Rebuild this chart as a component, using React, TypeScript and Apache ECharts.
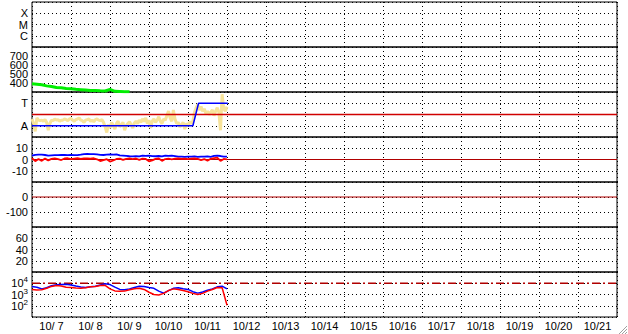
import React, { useEffect, useRef } from "react";
import * as echarts from "echarts";

// Day tick labels (band-centred under each day)
const dayLabels = ["10/ 7", "10/ 8", "10/ 9", "10/10", "10/11", "10/12", "10/13", "10/14", "10/15", "10/16", "10/17", "10/18", "10/19", "10/20", "10/21"];

// Panel 1 category tick labels
const flareTicks = ["C", "M", "X"];
// Panel 3 category tick labels (value 1 = A, value 3 = T)
const levelTicks = ["A", "", "T"];

// Panel 2: green series, 3-hour samples from 10/7 00:00
const greenValues = [392, 386, 380, 368, 362, 350, 346, 340, 336, 330, 326, 322, 318, 316, 313, 311, 330, 308, 306, 304, 302];

// Panel 3: yellow series, hourly samples
const yellowValues = [
  1.6, 1.2, 0.5, 1.7, 1.5,
  1.45, 1.5, 1.4, 1.55, 1.3, 0.6, 1.2, 1.5, 1.45, 1.6, 1.5, 1.55, 1.4, 1.5,
  1.5, 1.6, 1.55, 1.45, 1.6, 1.65, 1.5, 1.4, 1.55, 1.6, 1.7, 1.5, 1.45, 1.3, 1.5, 1.55, 1.6, 1.4, 1.5, 1.35, 1.55, 1.6, 1.5, 1.45, 1.55, 1.3, 0.9,
  0.4, 1.1, 0.8, 1.3, 1.0, 0.7, 1.2, 1.4, 0.9, 1.1, 1.3, 0.6, 1.0, 1.2, 1.35, 1.1, 0.8, 1.25, 1.4, 1.2,
  1.5, 1.3, 1.6, 1.4, 1.7, 1.2, 1.5, 0.8, 1.4, 1.6, 1.3, 1.5, 1.8, 1.4, 1.2, 1.6, 1.5, 1.9, 2.3, 1.7, 1.4, 2.4, 1.6,
  1.2, 1.3, 0.9, 1.1, 1.3, 0.7, 1.2, 1.0, 1.35, 1.2, 1.4,
  2.2, 2.6, 2.9, 2.4, 2.7, 2.3, 2.5, 2.1, 2.3, 2.0, 2.2, 2.4, 1.9, 2.3, 2.6, 2.2, 0.6, 3.8, 2.5, 2.3, 2.7,
];
// Panel 3: blue level line [hour, level]
const blueLevelHours = [0, 99, 102.5, 120.5];
const blueLevelValues = [1, 1, 3, 3];
const redLevel = 2;

// Panel 4: 2-hour samples
const panel4Blue = [3.4, 4.2, 4.4, 4.3, 4.0, 3.4, 3.6, 3.8, 3.9, 4.0, 4.1, 3.9, 4.0, 3.8, 3.9, 4.3, 4.8, 4.9, 4.7, 4.8, 4.5, 4.1, 4.0, 4.3, 4.5, 4.4, 4.5, 3.6, 3.4, 3.2, 2.9, 2.7, 3.0, 2.8, 3.4, 3.2, 3.5, 3.0, 2.9, 3.1, 2.8, 3.4, 3.2, 3.5, 3.0, 2.5, 2.6, 2.4, 2.6, 2.5, 2.7, 2.4, 2.6, 2.5, 2.7, 2.4, 3.2, 3.5, 3.1, 2.6, 2.5];
const panel4Red = [1.2, -1.5, 0.5, -1.2, 0.8, -0.8, 0.6, 1.0, 0.3, -0.5, 0.9, 1.1, 0.4, 0.8, 1.2, 0.6, 0.9, 1.0, 0.7, 1.1, 0.2, -1.4, -0.6, 0.3, -1.8, -0.9, 0.5, 0.8, -0.4, 0.6, 1.0, 0.4, 0.9, -0.3, 0.7, 0.5, -1.6, -0.8, 0.6, 0.9, -1.2, 0.4, 0.8, 0.2, 0.7, 1.0, 0.5, 0.8, 0.3, 0.7, 0.9, 0.6, -0.5, 0.4, -1.0, 0.6, 1.2, 1.6, -1.3, 0.5, 0.2];

// Panel 7: 3-hour samples (log axis)
const panel7Blue = [5250, 4470, 3160, 3980, 6030, 7240, 7940, 8320, 7080, 5620, 4570, 4170, 4790, 5500, 7080, 8910, 7590, 4470, 2820, 2630, 3160, 4170, 5500, 5250, 4170, 3550, 2000, 1320, 2240, 3550, 3980, 3310, 2820, 1780, 1320, 1660, 2400, 3160, 4790, 5500, 3160];
const panel7Red = [2820, 2510, 2630, 3550, 5250, 6310, 5620, 4470, 4170, 3800, 3550, 3980, 4790, 5250, 6310, 6610, 3160, 2090, 1910, 2000, 2630, 3310, 3550, 2820, 1580, 1000, 910, 1260, 2240, 3160, 2820, 2240, 1780, 1260, 1000, 1260, 2000, 2820, 4170, 3980, 110];
const panel7Threshold = 10000;

const FONT = "'Liberation Sans', Arial, sans-serif";
const TOP0 = 2;
const PANEL_H = 45;

export default function App() {
  const ref = useRef<HTMLDivElement>(null);
  useEffect(() => {
    if (!ref.current) return;
    const chart = echarts.init(ref.current, undefined, { renderer: "svg" });

    const grids = [];
    const xAxes: any[] = [];
    for (let i = 0; i < 7; i++) {
      grids.push({ left: 32, right: 11, top: TOP0 + PANEL_H * i, height: PANEL_H, show: true, borderColor: "#000", borderWidth: 1, backgroundColor: "transparent" });
      xAxes.push({
        type: "value", gridIndex: i, min: 0, max: 360, interval: 24,
        axisLabel: { show: false }, axisTick: { show: false }, axisLine: { show: false },
        splitLine: { show: true, lineStyle: { color: "#000", type: [1, 3], width: 1 } },
      });
    }
    xAxes.push({
      type: "category", gridIndex: 6, position: "bottom", data: dayLabels, boundaryGap: true,
      axisLine: { show: false }, axisTick: { show: false }, splitLine: { show: false },
      axisLabel: { interval: 0, color: "#000", fontSize: 11, fontFamily: FONT, margin: 3 },
    });

    const yBase = (i: number, extra: any) => ({
      gridIndex: i, type: "value",
      axisLine: { show: false }, axisTick: { show: false },
      splitLine: { show: true, lineStyle: { color: "#000", type: [1, 3], width: 1 } },
      ...extra,
      axisLabel: { color: "#000", fontSize: 11, fontFamily: FONT, margin: 4, lineHeight: 11, ...(extra.axisLabel || {}) },
    });

    const yAxes = [
      yBase(0, { min: 0, max: 4, interval: 1, axisLabel: { formatter: (v: number) => (v >= 1 && v <= 3 ? flareTicks[v - 1] : "") } }),
      yBase(1, { min: 300, max: 800, interval: 100, axisLabel: { lineHeight: 9, formatter: (v: number) => (v > 300 && v < 800 ? String(v) : "") } }),
      yBase(2, { min: 0, max: 4, interval: 1, axisLabel: { formatter: (v: number) => (v >= 1 && v <= 3 ? levelTicks[v - 1] : "") } }),
      yBase(3, { min: -20, max: 20, interval: 10, axisLabel: { formatter: (v: number) => (v > -20 && v < 20 ? String(v) : "") } }),
      yBase(4, { min: -200, max: 100, interval: 100, axisLabel: { formatter: (v: number) => (v > -200 && v < 100 ? String(v) : "") } }),
      yBase(5, { min: 0, max: 80, interval: 20, axisLabel: { formatter: (v: number) => (v > 0 && v < 80 ? String(v) : "") } }),
      {
        gridIndex: 6, type: "log", logBase: 10, min: 10, max: 100000,
        axisLine: { show: false }, axisTick: { show: false },
        splitLine: { show: true, lineStyle: { color: "#000", type: [1, 3], width: 1 } },
        axisLabel: {
          color: "#000", fontSize: 11, fontFamily: FONT, margin: 4,
          formatter: (v: number) => {
            const e = Math.round(Math.log10(v));
            if (e <= 1 || e >= 5) return "";
            return "{a|10}{b|" + e + "}";
          },
          rich: {
            a: { fontSize: 11, fontFamily: FONT, color: "#000", lineHeight: 11, verticalAlign: "middle" },
            b: { fontSize: 8, fontFamily: FONT, color: "#000", lineHeight: 8, padding: [0, 0, 7, 0], verticalAlign: "middle" },
          },
        },
      },
    ];

    const line = (xi: number, data: any[], color: string, width: number, extra: any = {}) => ({
      type: "line", xAxisIndex: xi, yAxisIndex: xi, data, showSymbol: false, symbol: "none",
      lineStyle: { color, width, ...(extra.lineStyle || {}) }, silent: true,
    });

    const series = [
      line(1, greenValues.map((v, i) => [i * 3, v]), "#00ee00", 3),
      line(2, yellowValues.map((v, i) => [i, v]), "#f7e39a", 3),
      line(2, [[0, redLevel], [360, redLevel]], "#d00000", 1.5),
      line(2, blueLevelHours.map((h, i) => [h, blueLevelValues[i]]), "#0000ff", 1.5),
      line(3, [[0, 0], [360, 0]], "#b00000", 1),
      line(3, panel4Blue.map((v, i) => [i * 2, v]), "#0000ff", 1.8),
      line(3, panel4Red.map((v, i) => [i * 2, v]), "#ff0000", 1.8),
      line(4, [[0, 0], [360, 0]], "#b00000", 1.2),
      line(6, [[0, panel7Threshold], [360, panel7Threshold]], "#b00000", 1.5, { lineStyle: { type: [8, 3, 2, 3] } }),
      line(6, panel7Blue.map((v, i) => [i * 3, v]), "#0000ff", 1.5),
      line(6, panel7Red.map((v, i) => [i * 3, v]), "#ff0000", 1.5),
    ];

    chart.setOption({
      animation: false,
      backgroundColor: "#fff",
      textStyle: { fontFamily: FONT },
      grid: grids,
      xAxis: xAxes,
      yAxis: yAxes,
      series,
      graphic: [
        { type: "line", shape: { x1: 627, y1: 326, x2: 618, y2: 335 }, style: { stroke: "#a0a0a0", lineWidth: 1 } },
        { type: "line", shape: { x1: 627, y1: 329, x2: 621, y2: 335 }, style: { stroke: "#a0a0a0", lineWidth: 1 } },
        { type: "line", shape: { x1: 627, y1: 332, x2: 624, y2: 335 }, style: { stroke: "#a0a0a0", lineWidth: 1 } },
      ],
    });
    return () => chart.dispose();
  }, []);
  return <div ref={ref} style={{ position: "fixed", left: 0, top: 0, width: 628, height: 334, background: "#fff" }} />;
}
